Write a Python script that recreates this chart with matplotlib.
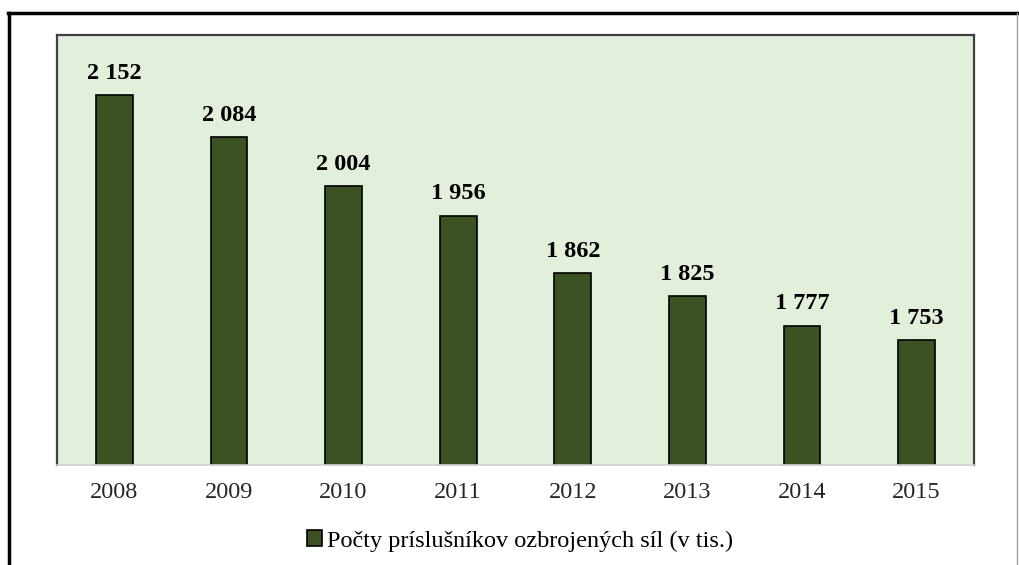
import matplotlib.pyplot as plt
from matplotlib.lines import Line2D
from matplotlib.patches import Patch

years = ["2008", "2009", "2010", "2011", "2012", "2013", "2014", "2015"]
counts = [2152, 2084, 2004, 1956, 1862, 1825, 1777, 1753]
series_name = "Počty príslušníkov ozbrojených síl (v tis.)"

bar_color = "#3b5323"
bg_color = "#e2efda"

plt.rcParams['font.family'] = ['Liberation Serif', 'DejaVu Serif']

fig = plt.figure(figsize=(10.2, 5.65), dpi=100)
ax = fig.add_axes([57 / 1020, 1 - 465 / 565, 917 / 1020, 430 / 565])
ax.set_facecolor(bg_color)

x = range(len(years))
bars = ax.bar(x, counts, width=0.32, color=bar_color, edgecolor="black", linewidth=1.2)

for rect, v in zip(bars, counts):
    label = f"{v:,}".replace(",", " ")
    ax.annotate(label, (rect.get_x() + rect.get_width() / 2, v),
                xytext=(0, 8), textcoords="offset points",
                ha="center", va="bottom", fontsize=17.5, fontweight="bold")

ax.set_xlim(-0.5, len(years) - 0.5)
ax.set_ylim(1550, 2250)
ax.set_xticks(list(x))
ax.set_xticklabels(years, fontsize=17.5, color="#262626")
ax.tick_params(axis="x", length=0, pad=12)
ax.set_yticks([])

for s in ["top", "left", "right"]:
    ax.spines[s].set_color("#404040")
    ax.spines[s].set_linewidth(1.6)
ax.spines["bottom"].set_color("#d0d0d0")
ax.spines["bottom"].set_linewidth(1.2)

handle = Patch(facecolor=bar_color, edgecolor="black", linewidth=1.2)
fig.legend([handle], [series_name], loc="center", bbox_to_anchor=(520 / 1020, 1 - 541 / 565),
           frameon=False, fontsize=17.5, handlelength=0.65, handleheight=0.65,
           handletextpad=0.2, borderaxespad=0)

# outer frame around the chart
fig.add_artist(Line2D([8 / 1020, 1018 / 1020], [1 - 13 / 565, 1 - 13 / 565],
                      color="black", linewidth=2.5, transform=fig.transFigure))
fig.add_artist(Line2D([9 / 1020, 9 / 1020], [1 - 13 / 565, 0],
                      color="black", linewidth=2.5, transform=fig.transFigure))
fig.add_artist(Line2D([1017.5 / 1020, 1017.5 / 1020], [1 - 13 / 565, 0],
                      color="#a0a0a0", linewidth=1.0, transform=fig.transFigure))

fig.savefig("out.png", dpi=100)
